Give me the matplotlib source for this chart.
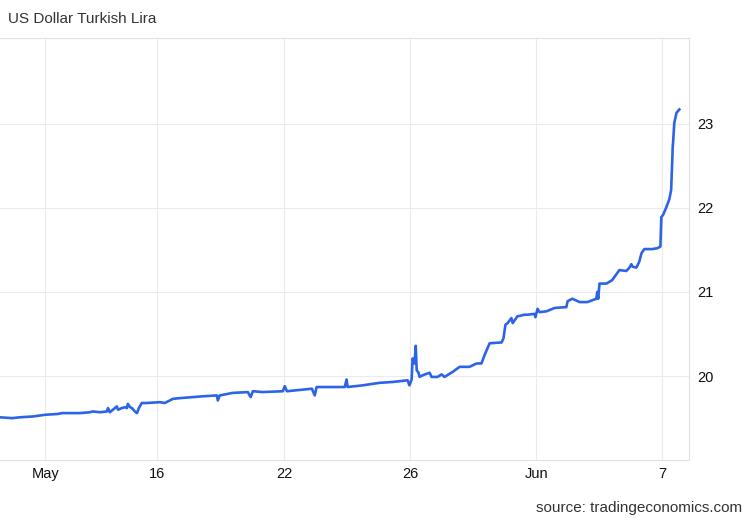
import matplotlib
matplotlib.use("Agg")
import matplotlib.pyplot as plt

plt.rcParams['font.family'] = ['Liberation Sans', 'DejaVu Sans']

# trading days counted from May 16 (weekends skipped, as on the source chart)
days = [-4.96, -4.58, -4.33, -3.91, -3.53, -3.12, -3.00, -2.43, -2.11, -2.02,
        -1.79, -1.57, -1.54, -1.48, -1.32, -1.26, -1.22, -1.10, -1.00, -0.94,
        -0.91, -0.84, -0.78, -0.69, -0.62, -0.56, -0.47, -0.31, 0.10, 0.26,
        0.52, 0.80, 1.15, 1.47, 1.91, 1.94, 2.00, 2.41, 2.89, 2.98,
        3.05, 3.36, 4.00, 4.06, 4.13, 4.92, 5.01, 5.07, 5.39, 5.96,
        6.02, 6.05, 6.53, 7.07, 7.48, 7.95, 8.01, 8.08, 8.11, 8.17,
        8.21, 8.24, 8.30, 8.33, 8.43, 8.65, 8.71, 8.90, 9.03, 9.12,
        9.38, 9.60, 9.91, 10.14, 10.29, 10.39, 10.55, 10.93, 10.99, 11.05,
        11.12, 11.24, 11.28, 11.43, 11.66, 11.75, 11.97, 12.00, 12.07, 12.13,
        12.35, 12.61, 12.98, 13.02, 13.17, 13.40, 13.65, 13.93, 13.96, 13.99,
        14.03, 14.25, 14.43, 14.66, 14.88, 14.98, 15.04, 15.08, 15.20, 15.29,
        15.36, 15.45, 15.70, 15.86, 15.96, 15.99, 16.05, 16.15, 16.24, 16.30,
        16.34, 16.35, 16.36, 16.40, 16.47, 16.56]

usdtry = [19.51, 19.50, 19.51, 19.52, 19.54, 19.55, 19.56, 19.56, 19.57, 19.58,
          19.57, 19.58, 19.62, 19.57, 19.62, 19.64, 19.60, 19.62, 19.63, 19.62,
          19.67, 19.63, 19.62, 19.58, 19.56, 19.62, 19.68, 19.68, 19.69, 19.68,
          19.73, 19.74, 19.75, 19.76, 19.77, 19.71, 19.77, 19.80, 19.81, 19.75,
          19.82, 19.81, 19.82, 19.88, 19.82, 19.85, 19.77, 19.87, 19.87, 19.87,
          19.96, 19.87, 19.89, 19.92, 19.93, 19.95, 19.89, 19.96, 20.21, 20.15,
          20.36, 20.07, 20.04, 19.99, 20.01, 20.04, 19.99, 19.99, 20.02, 19.99,
          20.05, 20.11, 20.11, 20.15, 20.15, 20.25, 20.39, 20.40, 20.45, 20.61,
          20.63, 20.69, 20.63, 20.71, 20.73, 20.73, 20.74, 20.70, 20.80, 20.76,
          20.77, 20.81, 20.82, 20.89, 20.92, 20.88, 20.88, 20.92, 21.00, 20.92,
          21.10, 21.10, 21.14, 21.26, 21.25, 21.29, 21.33, 21.30, 21.29, 21.36,
          21.46, 21.51, 21.51, 21.52, 21.54, 21.89, 21.92, 22.01, 22.10, 22.21,
          22.61, 22.73, 22.77, 23.01, 23.13, 23.17]

tick_pos = [-3.53, 0, 4.04, 8.03, 12.03, 16.02]
tick_labels = ['May', '16', '22', '26', 'Jun', '7']
y_ticks = [20, 21, 22, 23]

fig = plt.figure(figsize=(7.5, 5.2), dpi=100)
ax = fig.add_axes([0.0, 0.115, 0.918, 0.812])

ax.plot(days, usdtry, color='#2d64e6', linewidth=1.9, solid_joinstyle='round')

ax.set_xlim(-4.96, 16.85)
ax.set_ylim(19.0, 24.02)
ax.set_xticks(tick_pos)
ax.set_xticklabels(tick_labels)
ax.set_yticks(y_ticks)
ax.yaxis.tick_right()
ax.tick_params(axis='both', length=0, labelsize=10.5, labelcolor='#111111')
ax.tick_params(axis='x', pad=5)
ax.tick_params(axis='y', pad=6)

ax.grid(True, color='#ebebeb', linewidth=0.8)
ax.set_axisbelow(True)

for side in ['top', 'right', 'bottom']:
    ax.spines[side].set_color('#e0e0e0')
    ax.spines[side].set_linewidth(0.8)
ax.spines['left'].set_visible(False)

fig.text(0.011, 0.963, 'US Dollar Turkish Lira', fontsize=11, color='#333333',
         ha='left', va='center')
fig.text(0.989, 0.023, 'source: tradingeconomics.com', fontsize=11, color='#333333',
         ha='right', va='center')

fig.savefig('out.png', dpi=100)
